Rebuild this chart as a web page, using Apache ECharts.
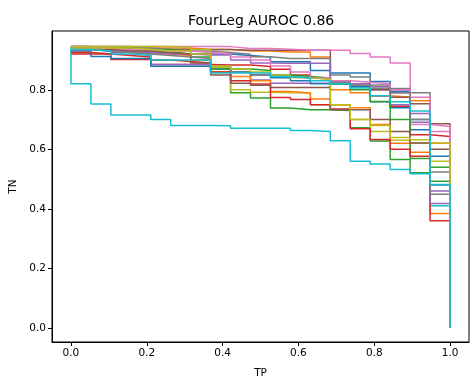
<!DOCTYPE html>
<html>
<head>
<meta charset="utf-8">
<script src="https://cdn.jsdelivr.net/npm/echarts@6/dist/echarts.min.js"></script>
<style>
  html, body { margin: 0; padding: 0; background: #fff; }
  #chart { width: 470px; height: 380px; }
</style>
</head>
<body>
<div id="chart"></div>
<script>
// TP thresholds: 20 evenly spaced true-positive rates (k / 19)
const tpSteps = Array.from({ length: 20 }, (_, k) => k / 19);

// TN level held over each TP interval [k/19, (k+1)/19], one array per fold
const tnBlueA   = [0.935,0.93,0.93,0.925,0.925,0.92,0.92,0.92,0.915,0.91,0.894,0.894,0.865,0.856,0.856,0.828,0.795,0.666,0.577];
const tnOrangeA = [0.94,0.94,0.94,0.94,0.94,0.94,0.935,0.935,0.93,0.93,0.927,0.927,0.91,0.80,0.79,0.78,0.775,0.763,0.62];
const tnGreenA  = [0.935,0.935,0.93,0.93,0.925,0.92,0.91,0.86,0.79,0.772,0.739,0.733,0.733,0.73,0.672,0.628,0.566,0.521,0.493];
const tnRedA    = [0.92,0.92,0.902,0.902,0.885,0.885,0.885,0.883,0.883,0.878,0.869,0.85,0.84,0.83,0.82,0.78,0.745,0.649,0.643];
const tnPurpleA = [0.935,0.935,0.925,0.92,0.885,0.885,0.885,0.875,0.86,0.833,0.822,0.822,0.822,0.82,0.81,0.80,0.75,0.691,0.46];
const tnBrownA  = [0.945,0.94,0.94,0.935,0.935,0.935,0.935,0.935,0.933,0.933,0.933,0.933,0.933,0.82,0.813,0.80,0.775,0.753,0.686];
const tnPinkA   = [0.945,0.945,0.945,0.945,0.945,0.945,0.945,0.945,0.939,0.939,0.936,0.933,0.933,0.933,0.922,0.91,0.89,0.683,0.677];
const tnGrayA   = [0.945,0.945,0.945,0.94,0.935,0.93,0.93,0.925,0.919,0.911,0.905,0.905,0.905,0.85,0.843,0.816,0.804,0.79,0.524];
const tnOliveA  = [0.945,0.945,0.945,0.945,0.945,0.942,0.935,0.875,0.80,0.792,0.79,0.789,0.75,0.749,0.70,0.66,0.63,0.62,0.56];
const tnCyanA   = [0.82,0.752,0.715,0.715,0.70,0.68,0.68,0.679,0.671,0.671,0.671,0.663,0.66,0.629,0.56,0.551,0.532,0.518,0.41];
const tnBlueB   = [0.93,0.912,0.905,0.905,0.879,0.879,0.879,0.87,0.86,0.85,0.84,0.83,0.82,0.82,0.81,0.76,0.74,0.70,0.48];
const tnOrangeB = [0.94,0.935,0.93,0.925,0.919,0.915,0.90,0.86,0.845,0.83,0.794,0.789,0.769,0.75,0.74,0.683,0.62,0.59,0.384];
const tnGreenB  = [0.94,0.94,0.94,0.935,0.935,0.93,0.92,0.87,0.87,0.865,0.85,0.845,0.84,0.82,0.80,0.761,0.70,0.569,0.54];
const tnRedB    = [0.925,0.92,0.915,0.91,0.90,0.895,0.89,0.86,0.83,0.819,0.774,0.767,0.75,0.735,0.669,0.633,0.60,0.577,0.36];
const tnPurpleB = [0.935,0.93,0.93,0.925,0.92,0.92,0.917,0.917,0.90,0.89,0.889,0.889,0.889,0.83,0.82,0.81,0.79,0.72,0.418];
const tnBrownB  = [0.94,0.935,0.93,0.93,0.925,0.92,0.89,0.85,0.822,0.815,0.808,0.808,0.808,0.733,0.733,0.70,0.66,0.621,0.60];
const tnPinkB   = [0.94,0.94,0.935,0.935,0.93,0.93,0.925,0.92,0.91,0.90,0.88,0.86,0.84,0.83,0.825,0.82,0.80,0.775,0.66];
const tnGrayB   = [0.935,0.93,0.925,0.92,0.915,0.91,0.905,0.88,0.86,0.85,0.845,0.84,0.836,0.825,0.815,0.805,0.79,0.70,0.449];
const tnOliveB  = [0.94,0.94,0.94,0.935,0.93,0.93,0.92,0.88,0.87,0.86,0.85,0.84,0.835,0.75,0.70,0.68,0.64,0.632,0.621];
const tnCyanB   = [0.935,0.93,0.92,0.915,0.90,0.90,0.90,0.856,0.856,0.856,0.845,0.839,0.83,0.82,0.806,0.78,0.76,0.729,0.482];

// TN at TP = 0 before the first drop (only the cyan fold starts above its first level)
const tnStartCyanA = 0.945;

const curves = [
  { tn: tnBlueA,   color: '#1f77b4' },
  { tn: tnOrangeA, color: '#ff7f0e' },
  { tn: tnGreenA,  color: '#2ca02c' },
  { tn: tnRedA,    color: '#d62728' },
  { tn: tnPurpleA, color: '#9467bd' },
  { tn: tnBrownA,  color: '#8c564b' },
  { tn: tnPinkA,   color: '#e377c2' },
  { tn: tnGrayA,   color: '#7f7f7f' },
  { tn: tnOliveA,  color: '#bcbd22' },
  { tn: tnCyanA,   color: '#17becf', start: tnStartCyanA },
  { tn: tnBlueB,   color: '#1f77b4' },
  { tn: tnOrangeB, color: '#ff7f0e' },
  { tn: tnGreenB,  color: '#2ca02c' },
  { tn: tnRedB,    color: '#d62728' },
  { tn: tnPurpleB, color: '#9467bd' },
  { tn: tnBrownB,  color: '#8c564b' },
  { tn: tnPinkB,   color: '#e377c2' },
  { tn: tnGrayB,   color: '#7f7f7f' },
  { tn: tnOliveB,  color: '#bcbd22' },
  { tn: tnCyanB,   color: '#17becf' }
];

const xTicks = [0, 0.2, 0.4, 0.6, 0.8, 1.0];
const yTicks = [0, 0.2, 0.4, 0.6, 0.8];

// Each curve: optional start point at TP=0, then one point per interval, ending at (1, 0)
function buildPoints(c) {
  const pts = [];
  pts.push([0, c.start !== undefined ? c.start : c.tn[0]]);
  c.tn.forEach((v, k) => pts.push([tpSteps[k], v]));
  pts.push([tpSteps[tpSteps.length - 1], 0]);
  return pts;
}

const font = 'DejaVu Sans';
const chart = echarts.init(document.getElementById('chart'), null, { renderer: 'canvas' });

chart.setOption({
  animation: false,
  backgroundColor: '#ffffff',
  title: {
    text: 'FourLeg AUROC 0.86',
    left: 183,
    top: 9,
    textStyle: { fontFamily: font, fontSize: 14, fontWeight: 'normal', color: '#000' }
  },
  grid: {
    left: 52, right: 1, top: 31, bottom: 38,
    outerBoundsMode: 'none',
    containLabel: false,
    show: true, borderColor: '#000', borderWidth: 1, backgroundColor: 'transparent'
  },
  xAxis: {
    type: 'value',
    min: -0.05, max: 1.05,
    name: 'TP',
    nameLocation: 'middle',
    nameGap: 26,
    nameTextStyle: { fontFamily: font, fontSize: 10.5, color: '#000' },
    axisLine: { show: true, onZero: false, lineStyle: { color: '#000', width: 1 } },
    axisTick: { show: true, length: 4, customValues: xTicks, lineStyle: { color: '#000' } },
    axisLabel: {
      customValues: xTicks, margin: 6,
      formatter: v => v.toFixed(1),
      fontFamily: font, fontSize: 10.5, color: '#000'
    },
    splitLine: { show: false }
  },
  yAxis: {
    type: 'value',
    min: -0.0475, max: 0.9975,
    name: 'TN',
    nameLocation: 'middle',
    nameGap: 33,
    nameTextStyle: { fontFamily: font, fontSize: 10.5, color: '#000' },
    axisLine: { show: true, onZero: false, lineStyle: { color: '#000', width: 1 } },
    axisTick: { show: true, length: 4, customValues: yTicks, lineStyle: { color: '#000' } },
    axisLabel: {
      customValues: yTicks, margin: 6,
      formatter: v => v.toFixed(1),
      fontFamily: font, fontSize: 10.5, color: '#000'
    },
    splitLine: { show: false }
  },
  series: curves.map(c => ({
    type: 'line',
    step: 'end',
    data: buildPoints(c),
    showSymbol: false,
    symbol: 'none',
    clip: true,
    lineStyle: { color: c.color, width: 1.5 },
    itemStyle: { color: c.color }
  }))
});
</script>
</body>
</html>
